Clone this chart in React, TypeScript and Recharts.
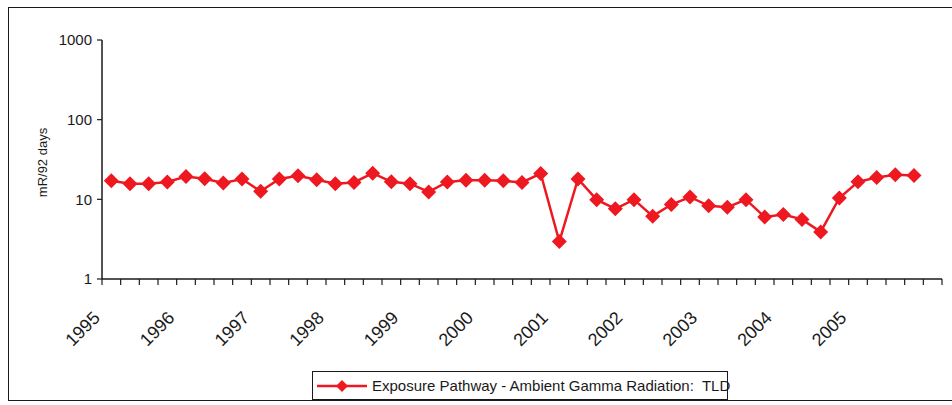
import { LineChart, Line, XAxis, YAxis, Legend } from "recharts";

const years = ["1995", "1996", "1997", "1998", "1999", "2000", "2001", "2002", "2003", "2004", "2005"];

const quarters = [
  "1995 Q1", "1995 Q2", "1995 Q3", "1995 Q4",
  "1996 Q1", "1996 Q2", "1996 Q3", "1996 Q4",
  "1997 Q1", "1997 Q2", "1997 Q3", "1997 Q4",
  "1998 Q1", "1998 Q2", "1998 Q3", "1998 Q4",
  "1999 Q1", "1999 Q2", "1999 Q3", "1999 Q4",
  "2000 Q1", "2000 Q2", "2000 Q3", "2000 Q4",
  "2001 Q1", "2001 Q2", "2001 Q3", "2001 Q4",
  "2002 Q1", "2002 Q2", "2002 Q3", "2002 Q4",
  "2003 Q1", "2003 Q2", "2003 Q3", "2003 Q4",
  "2004 Q1", "2004 Q2", "2004 Q3", "2004 Q4",
  "2005 Q1", "2005 Q2", "2005 Q3", "2005 Q4",
];

// mR per 92 days
const tld = [
  17.1, 15.7, 15.7, 16.5, 19.3, 18.1, 16.0, 18.0,
  12.6, 18.0, 19.7, 17.6, 15.7, 16.3, 21.3, 16.6,
  15.7, 12.4, 16.5, 17.4, 17.4, 17.1, 16.3, 21.1,
  2.95, 18.0, 9.9, 7.6, 9.9, 6.15, 8.6, 10.7,
  8.3, 7.95, 9.9, 6.0, 6.45, 5.6, 3.9, 10.4,
  16.6, 18.8, 20.3, 19.9,
];

const yTicks = [1, 10, 100, 1000];
const slots = 45; // quarter slots on the axis, last one empty
const seriesName = "Exposure Pathway - Ambient Gamma Radiation:  TLD";

const data = quarters.map((q, i) => ({ pos: i + 0.5, quarter: q, tld: tld[i] }));
const slotTicks = Array.from({ length: slots + 1 }, (_, i) => i);

const RED = "#ee1820";
const INK = "#1a1a1a";
const FONT = "'Liberation Sans', Arial, sans-serif";

function Diamond(props: any) {
  const { cx, cy } = props;
  if (cx == null || cy == null) return null;
  const r = 7.5;
  return (
    <polygon
      points={`${cx},${cy - r} ${cx + r},${cy} ${cx},${cy + r} ${cx - r},${cy}`}
      fill={RED}
    />
  );
}

function YearTick(props: any) {
  const { x, y, payload } = props;
  const v = payload.value;
  if (v % 4 !== 0 || v / 4 >= years.length) return null;
  return (
    <g transform={`translate(${x - 1},${y + 32})`}>
      <text
        x={0}
        y={0}
        textAnchor="end"
        transform="rotate(-45)"
        fontSize={18}
        fontFamily={FONT}
        fill={INK}
      >
        {years[v / 4]}
      </text>
    </g>
  );
}

function YTitle(props: any) {
  const { viewBox } = props;
  const cx = 47;
  const cy = viewBox.y + viewBox.height / 2 + 3;
  return (
    <text
      x={cx}
      y={cy}
      transform={`rotate(-90, ${cx}, ${cy})`}
      textAnchor="middle"
      fontSize={13}
      fontFamily={FONT}
      fill={INK}
    >
      mR/92 days
    </text>
  );
}

function LegendBox() {
  return (
    <div
      style={{
        display: "flex",
        alignItems: "center",
        boxSizing: "border-box",
        width: 416,
        height: 29,
        border: `1.5px solid ${INK}`,
        background: "#fff",
        padding: "0 0 0 4px",
        fontFamily: FONT,
        fontSize: 15,
        color: INK,
        whiteSpace: "pre",
      }}
    >
      <svg width={50} height={16} style={{ marginRight: 5, flex: "none" }}>
        <line x1={0} y1={8} x2={50} y2={8} stroke={RED} strokeWidth={2.5} />
        <polygon points="25,2 31,8 25,14 19,8" fill={RED} />
      </svg>
      <span>{seriesName}</span>
    </div>
  );
}

export default function App() {
  return (
    <div style={{ position: "relative", width: 952, height: 405, background: "#fff", overflow: "hidden" }}>
      <style>{`body{margin:0}`}</style>
      <div
        style={{
          position: "absolute",
          left: 8,
          top: 7,
          width: 960,
          height: 392,
          border: `1.5px solid ${INK}`,
        }}
      />
      <LineChart
        width={952}
        height={405}
        data={data}
        margin={{ top: 40, right: 10, left: 42, bottom: 17 }}
      >
        <XAxis
          dataKey="pos"
          type="number"
          domain={[0, slots]}
          ticks={slotTicks}
          interval={0}
          tick={<YearTick />}
          tickSize={6}
          tickLine={{ stroke: INK, strokeWidth: 1.2 }}
          axisLine={{ stroke: INK, strokeWidth: 1.5 }}
          height={80}
        />
        <XAxis
          xAxisId="top"
          orientation="top"
          type="number"
          domain={[0, slots]}
          tick={false}
          tickLine={false}
          axisLine={{ stroke: INK, strokeWidth: 1.5 }}
          height={0}
        />
        <YAxis
          type="number"
          scale="log"
          domain={[1, 1000]}
          ticks={yTicks}
          allowDataOverflow
          tick={{ fontSize: 15, fill: INK, fontFamily: FONT }}
          tickSize={5}
          tickMargin={5}
          tickLine={{ stroke: INK, strokeWidth: 1.2 }}
          axisLine={{ stroke: INK, strokeWidth: 1.5 }}
          width={60}
          label={<YTitle />}
        />
        <YAxis
          yAxisId="right"
          orientation="right"
          type="number"
          scale="log"
          domain={[1, 1000]}
          tick={false}
          tickLine={false}
          axisLine={{ stroke: INK, strokeWidth: 1.5 }}
          width={0}
        />
        <Legend
          verticalAlign="bottom"
          content={() => <LegendBox />}
          wrapperStyle={{ position: "absolute", left: 312, top: 371, width: "auto", bottom: "auto" }}
        />
        <Line
          type="linear"
          dataKey="tld"
          name={seriesName}
          stroke={RED}
          strokeWidth={2.5}
          dot={<Diamond />}
          activeDot={false}
          isAnimationActive={false}
        />
      </LineChart>
    </div>
  );
}
